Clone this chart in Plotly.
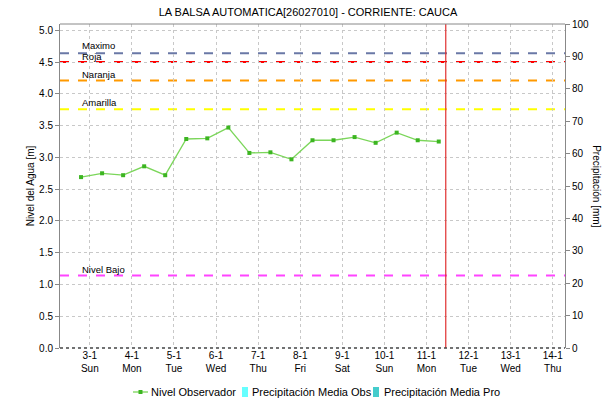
import plotly.graph_objects as go

# Observed water level (m), one reading every 12 hours
obs_time = [
    "2021-01-02 19:00", "2021-01-03 07:00", "2021-01-03 19:00", "2021-01-04 07:00",
    "2021-01-04 19:00", "2021-01-05 07:00", "2021-01-05 19:00", "2021-01-06 07:00",
    "2021-01-06 19:00", "2021-01-07 07:00", "2021-01-07 19:00", "2021-01-08 07:00",
    "2021-01-08 19:00", "2021-01-09 07:00", "2021-01-09 19:00", "2021-01-10 07:00",
    "2021-01-10 19:00", "2021-01-11 07:00",
]
obs_level = [2.69, 2.75, 2.72, 2.86, 2.72, 3.29, 3.30, 3.47, 3.07, 3.08, 2.97,
             3.27, 3.27, 3.32, 3.23, 3.39, 3.27, 3.25]

# Mean precipitation (mm): observed days and forecast days, all zero
precip_obs_time = ["2021-01-03", "2021-01-04", "2021-01-05", "2021-01-06",
                   "2021-01-07", "2021-01-08", "2021-01-09", "2021-01-10",
                   "2021-01-11"]
precip_obs = [0, 0, 0, 0, 0, 0, 0, 0, 0]
precip_pro_time = ["2021-01-12", "2021-01-13", "2021-01-14"]
precip_pro = [0, 0, 0]

# Alert thresholds (m)
level_names = ["Maximo", "Roja", "Naranja", "Amarilla", "Nivel Bajo"]
level_values = [4.64, 4.50, 4.21, 3.76, 1.14]
level_colors = ["#6a78a6", "#ff0000", "#ff9900", "#ffff00", "#ff44ff"]
level_label_shift = [1, -1, 0, 0, 0]

now_time = "2021-01-11 11:00"

tick_dates = ["2021-01-%02d" % d for d in range(3, 15)]
tick_days = ["3-1", "4-1", "5-1", "6-1", "7-1", "8-1", "9-1", "10-1",
             "11-1", "12-1", "13-1", "14-1"]
tick_weekdays = ["Sun", "Mon", "Tue", "Wed", "Thu", "Fri", "Sat", "Sun",
                 "Mon", "Tue", "Wed", "Thu"]
tick_text = [f"{d}<br>{w}" for d, w in zip(tick_days, tick_weekdays)]

x_range = ["2021-01-02 07:00", "2021-01-14 07:00"]

FONT = "Liberation Sans, Arial, sans-serif"
LINE_GREEN = "#7bd65a"
MARK_GREEN = "#3cb521"
CYAN = "#66ffff"
TEAL = "#44cccc"

fig = go.Figure()

fig.add_trace(go.Scatter(
    x=obs_time, y=obs_level, mode="lines+markers", name="Nivel Observador",
    line=dict(color=LINE_GREEN, width=1.3),
    marker=dict(color=MARK_GREEN, size=4, symbol="square"),
))
fig.add_trace(go.Bar(
    x=precip_obs_time, y=precip_obs, name="Precipitación Media Obs",
    marker_color=CYAN, yaxis="y2",
))
fig.add_trace(go.Bar(
    x=precip_pro_time, y=precip_pro, name="Precipitación Media Pro",
    marker_color=TEAL, yaxis="y2",
))

shapes = []
annotations = []
for name, val, col, dy in zip(level_names, level_values, level_colors, level_label_shift):
    shapes.append(dict(type="line", xref="paper", yref="y", x0=0, x1=1,
                       y0=val, y1=val, layer="below",
                       line=dict(color=col, width=2, dash="dash")))
    annotations.append(dict(xref="paper", yref="y", x=0.041, y=val,
                            text=name, showarrow=False, xanchor="left",
                            yanchor="bottom", borderpad=0, yshift=dy,
                            font=dict(family=FONT, size=9.5, color="#000")))

# current time marker
shapes.append(dict(type="line", xref="x", yref="paper", x0=now_time, x1=now_time,
                   y0=0, y1=1, line=dict(color="#e03030", width=1.2)))
# dotted baseline
shapes.append(dict(type="line", xref="paper", yref="paper", x0=0, x1=1,
                   y0=0, y1=0, line=dict(color="#444444", width=1.5, dash="dot")))
# top border
shapes.append(dict(type="line", xref="paper", yref="paper", x0=0, x1=1,
                   y0=1, y1=1, line=dict(color="#888888", width=1)))

annotations.append(dict(xref="paper", yref="paper", x=1.063, y=0.5,
                        text="Precipitación [mm]", showarrow=False,
                        textangle=90, xanchor="center", yanchor="middle",
                        font=dict(family=FONT, size=10, color="#000")))

# Compact legend row below the plot (paper coordinates)
PLOT_L, PLOT_W, PLOT_B, PLOT_H = 60, 505, 348, 324


def px_x(px):
    return (px - PLOT_L) / PLOT_W


def px_y(py):
    return (PLOT_B - py) / PLOT_H


leg_y = 392
shapes.append(dict(type="line", xref="paper", yref="paper",
                   x0=px_x(133), x1=px_x(148), y0=px_y(leg_y), y1=px_y(leg_y),
                   line=dict(color=LINE_GREEN, width=1.3)))
shapes.append(dict(type="rect", xref="paper", yref="paper",
                   x0=px_x(138.5), x1=px_x(142.5), y0=px_y(leg_y + 2), y1=px_y(leg_y - 2),
                   fillcolor=MARK_GREEN, line=dict(width=0)))
shapes.append(dict(type="rect", xref="paper", yref="paper",
                   x0=px_x(242), x1=px_x(248), y0=px_y(leg_y + 5), y1=px_y(leg_y - 5),
                   fillcolor=CYAN, line=dict(width=0)))
shapes.append(dict(type="rect", xref="paper", yref="paper",
                   x0=px_x(373), x1=px_x(379), y0=px_y(leg_y + 5), y1=px_y(leg_y - 5),
                   fillcolor=TEAL, line=dict(width=0)))
for label, px in [("Nivel Observador", 150), ("Precipitación Media Obs", 251),
                  ("Precipitación Media Pro", 383)]:
    annotations.append(dict(xref="paper", yref="paper", x=px_x(px), y=px_y(leg_y),
                            text=label, showarrow=False, xanchor="left",
                            yanchor="middle", borderpad=0,
                            font=dict(family=FONT, size=11, color="#000")))

fig.update_layout(
    width=616, height=405,
    margin=dict(l=60, r=51, t=24, b=57, autoexpand=False),
    paper_bgcolor="white", plot_bgcolor="white",
    font=dict(family=FONT, size=10, color="#000"),
    title=dict(text="LA BALSA AUTOMATICA[26027010] - CORRIENTE: CAUCA",
               x=0.5, xanchor="center", y=0.97, yanchor="middle",
               font=dict(family=FONT, size=11, color="#000")),
    xaxis=dict(
        type="date", range=x_range, tickvals=tick_dates, ticktext=tick_text,
        showgrid=True, gridcolor="#c8c8c8", griddash="dot", gridwidth=1,
        ticks="", showline=False, zeroline=False,
        tickfont=dict(family=FONT, size=10),
    ),
    yaxis=dict(
        title=dict(text="Nivel del Agua [m]", font=dict(family=FONT, size=10), standoff=2),
        range=[0, 5.1], dtick=0.5, tick0=0, tickformat=".1f",
        showgrid=True, gridcolor="#c8c8c8", griddash="dot", gridwidth=1,
        ticks="outside", ticklen=4, tickcolor="#888888",
        showline=True, linecolor="#888888", linewidth=1, zeroline=False,
        tickfont=dict(family=FONT, size=10),
    ),
    yaxis2=dict(
        overlaying="y", side="right", range=[0, 100], dtick=10,
        showgrid=False, zeroline=False,
        ticks="outside", ticklen=4, tickcolor="#888888",
        showline=True, linecolor="#888888", linewidth=1,
        tickfont=dict(family=FONT, size=10),
    ),
    shapes=shapes, annotations=annotations,
    bargap=0.2, showlegend=False,
)

fig.write_html("out.html")
